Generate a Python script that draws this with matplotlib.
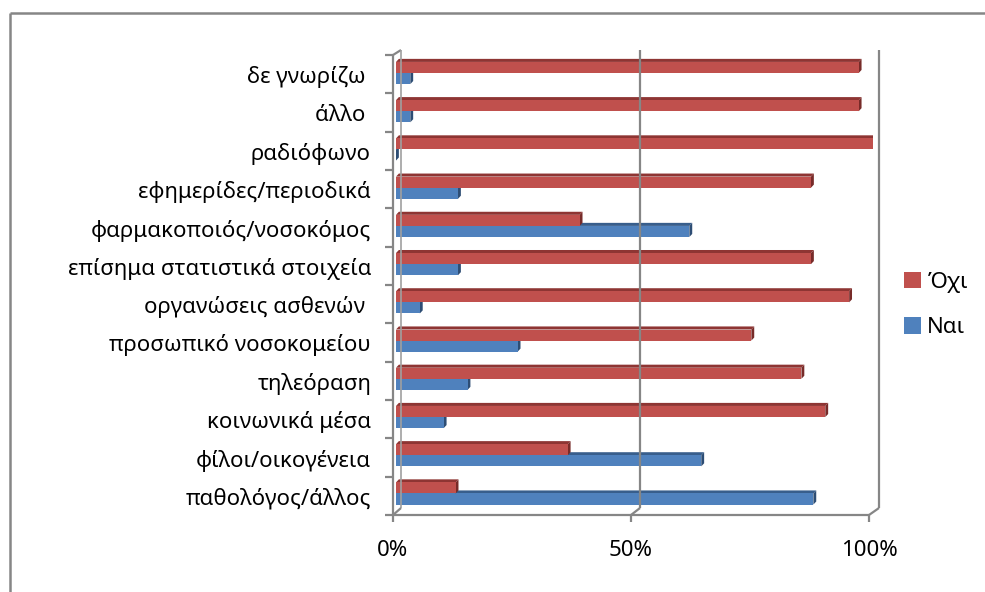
import numpy as np
import matplotlib.pyplot as plt
from matplotlib.patches import Polygon
from matplotlib.lines import Line2D

# categories from bottom to top
categories = ['παθολόγος/άλλος', 'φίλοι/οικογένεια', 'κοινωνικά μέσα', 'τηλεόραση',
              'προσωπικό νοσοκομείου', 'οργανώσεις ασθενών ', 'επίσημα στατιστικά στοιχεία',
              'φαρμακοποιός/νοσοκόμος', 'εφημερίδες/περιοδικά', 'ραδιόφωνο', 'άλλο ', 'δε γνωρίζω ']
nai = [87.5, 64, 10, 15, 25.5, 5, 13, 61.5, 13, 0, 3, 3]
oxi = [12.5, 36, 90, 85, 74.5, 95, 87, 38.5, 87, 100, 97, 97]
xticks = [0, 50, 100]
xticklabels = ['0%', '50%', '100%']

plt.rcParams['font.family'] = ['Noto Sans', 'DejaVu Sans']
FS = 16

W, H = 985, 592
fig = plt.figure(figsize=(W / 100, H / 100), dpi=100)

def fig_xy(x, y):
    return x / W, 1 - y / H

# plot region in pixels (front face of the bars)
ax_l, ax_r, ax_t, ax_b = 396, 873, 53.9, 512.6
ax = fig.add_axes([ax_l / W, 1 - ax_b / H, (ax_r - ax_l) / W, (ax_b - ax_t) / H])
ax.set_xlim(0, 100)
ax.set_ylim(-0.5, len(categories) - 0.5)
ax.axis('off')

grey = '#868686'
red, red_top, red_end = '#C0504D', '#8E3533', '#772B29'
blue, blue_top, blue_end = '#4F81BD', '#385E8C', '#2D4D74'

y = np.arange(len(categories))
h = 0.29
dx, dy = 0.6, 0.08  # bar depth in data units

def depth_faces(x1, yc, ctop, cend, z):
    y0, y1 = yc - h / 2, yc + h / 2
    ax.add_patch(Polygon([(0, y1), (x1, y1), (x1 + dx, y1 + dy), (dx, y1 + dy)],
                         closed=True, facecolor=ctop, edgecolor='none', zorder=z))
    ax.add_patch(Polygon([(x1, y0), (x1 + dx, y0 + dy), (x1 + dx, y1 + dy), (x1, y1)],
                         closed=True, facecolor=cend, edgecolor='none', zorder=z))

b_nai = ax.barh(y - h / 2, nai, height=h, color=blue, zorder=3, label='Ναι')
for v, yc in zip(nai, y - h / 2):
    depth_faces(v, yc, blue_top, blue_end, 2)
b_oxi = ax.barh(y + h / 2, oxi, height=h, color=red, zorder=5, label='Όχι')
for v, yc in zip(oxi, y + h / 2):
    depth_faces(v, yc, red_top, red_end, 4)

# 3D frame: front plane and back wall
f0, f100, fb, ft = 393, 869, 515, 55
b0, b100, bb, bt = 401, 879, 508, 50

def seg(x1, y1, x2, y2, lw=1.6, color=grey):
    (a, b), (c, d) = fig_xy(x1, y1), fig_xy(x2, y2)
    fig.add_artist(Line2D([a, c], [b, d], transform=fig.transFigure, color=color, lw=lw,
                          solid_capstyle='butt', zorder=1))

seg(f0, ft, f0, fb)
seg(f0, ft, b0, bt)
seg(b0, bt, b0, bb, lw=1.2, color='#A0A0A0')
seg(f0, fb, b0, bb)
seg(f0, fb, f100, fb)
for t in xticks[1:]:
    xb = b0 + t * (b100 - b0) / 100
    xf = f0 + t * (f100 - f0) / 100
    seg(xb, bt, xb, bb)
    seg(xb, bb, xf, fb)
for t, lab in zip(xticks, xticklabels):
    xf = f0 + t * (f100 - f0) / 100
    seg(xf, fb, xf, fb + 7)
    fig.text(*fig_xy(xf, 551), lab, ha='center', va='center', fontsize=FS)
step = (fb - ft) / len(categories)
for k in range(len(categories) + 1):
    yy = ft + k * step
    seg(f0 - 8, yy, f0, yy)
for k, lab in enumerate(categories):
    yy = fb - (k + 0.5) * step + 3
    fig.text(*fig_xy(371, yy), lab, ha='right', va='center', fontsize=FS)

# outer chart border
seg(9.5, 12.5, W, 12.5, lw=1.8)
seg(9.5, 12.5, 9.5, H, lw=1.8)

fig.legend(handles=[b_oxi, b_nai], loc='center left', bbox_to_anchor=(884 / W, 1 - 305 / H),
           frameon=False, fontsize=FS, handlelength=0.75, handleheight=0.75,
           handletextpad=0.3, labelspacing=1.1)

fig.savefig('out.png', dpi=100)
